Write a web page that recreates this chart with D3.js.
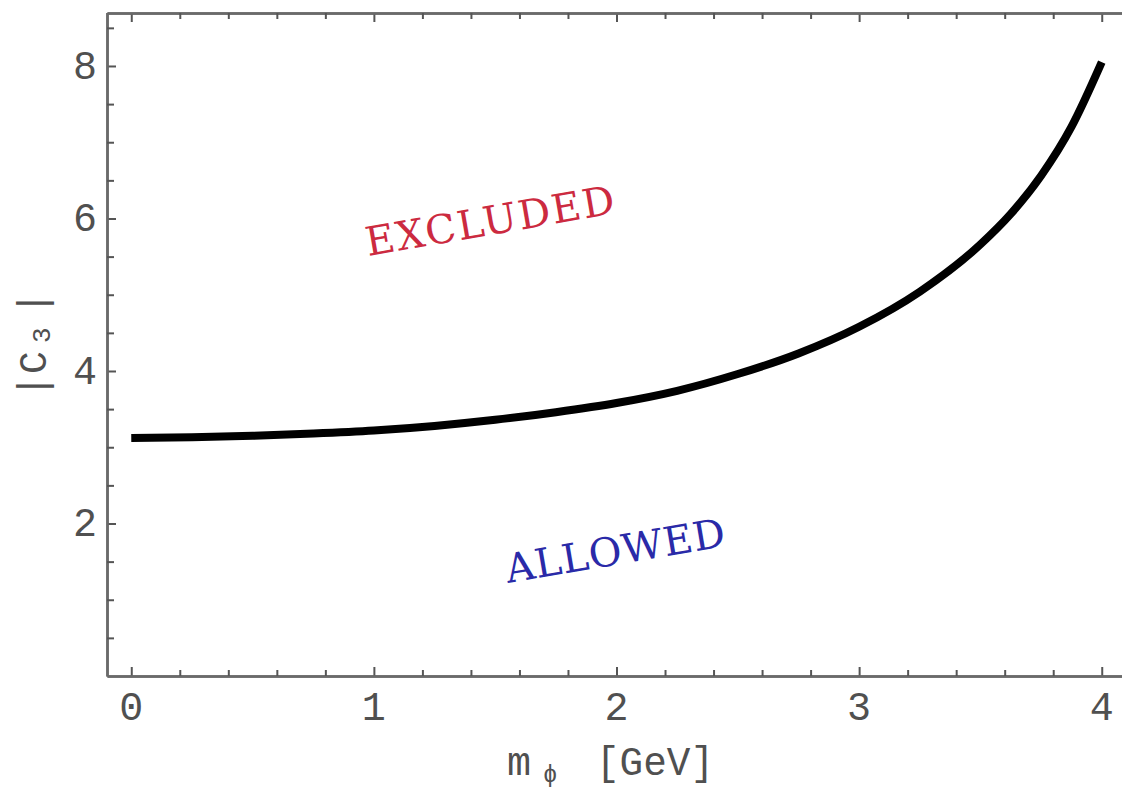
<!DOCTYPE html>
<html>
<head>
<meta charset="utf-8">
<script src="https://cdn.jsdelivr.net/npm/d3@7"></script>
<style>
  html, body { margin: 0; padding: 0; background: #fff; }
  svg { display: block; }
</style>
</head>
<body>
<svg id="chart" width="1122" height="788"></svg>
<script>
// ---- data ----
const massValues = [0, 0.25, 0.5, 0.75, 1.0, 1.25, 1.5, 1.75, 2.0, 2.25, 2.5, 2.75, 3.0, 3.25, 3.5, 3.625, 3.75, 3.875, 4.0];
const c3Values   = [3.12, 3.13, 3.15, 3.18, 3.22, 3.28, 3.36, 3.46, 3.58, 3.74, 3.96, 4.23, 4.58, 5.04, 5.66, 6.06, 6.56, 7.20, 8.05];
const xTickValues = [0, 1, 2, 3, 4];
const xTickLabels = ["0", "1", "2", "3", "4"];
const yTickValues = [2, 4, 6, 8];
const yTickLabels = ["2", "4", "6", "8"];
const regionLabels = ["EXCLUDED", "ALLOWED"];

// ---- layout ----
const svg = d3.select("#chart");
const mono = "'Liberation Mono', 'Courier New', monospace";
const slab = "'DejaVu Serif', serif";
const axisColor = "#6a6a6a";

const x = d3.scaleLinear().domain([-0.1, 4.1]).range([107, 1126]);
const y = d3.scaleLinear().domain([0, 8.7]).range([676, 12.6]);

const xMinor = d3.range(0, 4.05, 0.2).map(v => +v.toFixed(2)).filter(v => !xTickValues.includes(v));
const yMinor = d3.range(0.5, 8.6, 0.5).filter(v => !yTickValues.includes(v));

function styleAxis(g) {
  g.selectAll("path.domain").attr("stroke", axisColor).attr("stroke-width", 2.5);
  g.selectAll(".tick line").attr("stroke", "#555").attr("stroke-width", 2);
  g.selectAll("text").remove();
}

// bottom axis
svg.append("g").attr("transform", "translate(0,676)")
  .call(d3.axisBottom(x).tickValues(xTickValues).tickSizeInner(-9).tickSizeOuter(0).tickFormat(""))
  .call(styleAxis);
svg.append("g").attr("transform", "translate(0,676)")
  .call(d3.axisBottom(x).tickValues(xMinor).tickSizeInner(-6).tickSizeOuter(0).tickFormat(""))
  .call(styleAxis);
// top axis
svg.append("g").attr("transform", "translate(0,13)")
  .call(d3.axisTop(x).tickValues(xTickValues).tickSizeInner(-9).tickSizeOuter(0).tickFormat(""))
  .call(styleAxis);
svg.append("g").attr("transform", "translate(0,13)")
  .call(d3.axisTop(x).tickValues(xMinor).tickSizeInner(-6).tickSizeOuter(0).tickFormat(""))
  .call(styleAxis);
// left axis
svg.append("g").attr("transform", "translate(107,0)")
  .call(d3.axisLeft(y).tickValues(yTickValues).tickSizeInner(-9).tickSizeOuter(0).tickFormat(""))
  .call(styleAxis);
svg.append("g").attr("transform", "translate(107,0)")
  .call(d3.axisLeft(y).tickValues(yMinor).tickSizeInner(-7).tickSizeOuter(0).tickFormat(""))
  .call(styleAxis);

// tick labels
svg.append("g").selectAll("text").data(xTickValues).join("text")
  .attr("x", d => x(d)).attr("y", 720)
  .attr("text-anchor", "middle")
  .attr("font-family", mono).attr("font-size", 40).attr("fill", "#505050")
  .text((d, i) => xTickLabels[i]);
svg.append("g").selectAll("text").data(yTickValues).join("text")
  .attr("x", 97).attr("y", d => y(d) + 13)
  .attr("text-anchor", "end")
  .attr("font-family", mono).attr("font-size", 40).attr("fill", "#505050")
  .text((d, i) => yTickLabels[i]);

// axis titles
const xt = svg.append("g").attr("fill", "#505050").attr("font-family", mono);
xt.append("text").attr("x", 507).attr("y", 775).attr("font-size", 40).text("m");
xt.append("text").attr("x", 543).attr("y", 782).attr("font-size", 24).text("ϕ");
xt.append("text").attr("x", 596).attr("y", 775).attr("font-size", 40)
  .attr("textLength", 118).attr("lengthAdjust", "spacingAndGlyphs").text("[GeV]");

const yt = svg.append("g").attr("transform", "translate(46,386) rotate(-90)")
  .attr("fill", "#505050").attr("font-family", mono);
yt.append("text").attr("x", 0).attr("y", 0).attr("text-anchor", "middle").attr("font-size", 40).text("|");
yt.append("text").attr("x", 12).attr("y", 0).attr("font-size", 38).text("C");
yt.append("text").attr("x", 43).attr("y", 4).attr("font-size", 26).text("3");
yt.append("text").attr("x", 83).attr("y", 0).attr("text-anchor", "middle").attr("font-size", 40).text("|");

// curve
const line = d3.line()
  .x((d, i) => x(massValues[i]))
  .y(d => y(d))
  .curve(d3.curveMonotoneX);
svg.append("path")
  .datum(c3Values)
  .attr("d", line)
  .attr("fill", "none")
  .attr("stroke", "#000")
  .attr("stroke-width", 8)
  .attr("stroke-linecap", "butt");

// region labels
svg.append("text")
  .attr("transform", "translate(368,256) rotate(-9.8)")
  .attr("font-family", slab).attr("font-size", 40).attr("fill", "#cc2a40")
  .attr("textLength", 252).attr("lengthAdjust", "spacing")
  .text(regionLabels[0]);
svg.append("text")
  .attr("transform", "translate(508,583) rotate(-9.6)")
  .attr("font-family", slab).attr("font-size", 40).attr("fill", "#2a2aa8")
  .attr("textLength", 222).attr("lengthAdjust", "spacing")
  .text(regionLabels[1]);
</script>
</body>
</html>
